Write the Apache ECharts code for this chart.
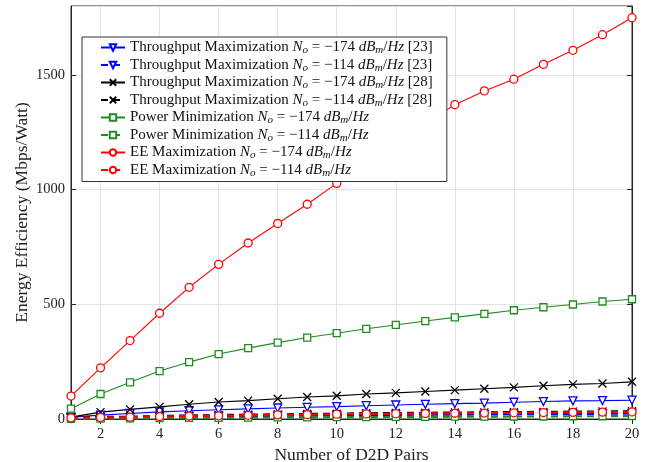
<!DOCTYPE html>
<html>
<head>
<meta charset="utf-8">
<script src="https://cdn.jsdelivr.net/npm/echarts@6/dist/echarts.min.js"></script>
<style>
	html, body { margin: 0; padding: 0; background: #fff; }
	#main { width: 652px; height: 462px; }
</style>
</head>
<body>
<div id="main"></div>
<script>
// number of D2D pairs
var pairs = ['1', '2', '3', '4', '5', '6', '7', '8', '9', '10', '11', '12', '13', '14', '15', '16', '17', '18', '19', '20'];
var yTicks = [0, 500, 1000, 1500];

// throughput maximization [23]
var tp23_174 = [8, 17, 24, 31, 36, 40, 44, 48, 51, 54, 58, 61, 64, 67, 69, 73, 76, 79, 80, 82];
var tp23_114 = [3, 5, 6, 8, 10, 11, 12, 14, 15, 16, 17, 18, 19, 19, 20, 21, 22, 22, 23, 24];
// throughput maximization [28]
var tp28_174 = [8, 30, 42, 53, 64, 74, 80, 88, 96, 101, 109, 114, 120, 126, 132, 138, 145, 151, 155, 162];
var tp28_114 = [6, 9, 10, 13, 15, 17, 19, 20, 22, 23, 25, 26, 27, 28, 29, 30, 31, 32, 33, 34];
// power minimization
var pm_174 = [45, 109, 160, 209, 248, 283, 309, 333, 355, 374, 393, 410, 427, 443, 458, 474, 487, 499, 512, 522];
var pm_114 = [1, 2, 3, 4, 5, 5, 6, 7, 7, 8, 8, 9, 9, 10, 10, 11, 11, 12, 12, 13];
// EE maximization
var ee_174 = [100, 223, 342, 461, 574, 674, 767, 852, 936, 1027, 1112, 1198, 1285, 1370, 1430, 1481, 1546, 1607, 1675, 1749];
var ee_114 = [5, 7, 8, 11, 13, 14, 16, 18, 19, 21, 22, 23, 24, 25, 26, 27, 28, 29, 30, 31];

var FONT = 'Liberation Serif';
var crossPath = 'path://M0,0L10,10M10,0L0,10';

function mkLine(name, data, color, symbol, dashed, size, rotate) {
	return {
		name: name,
		type: 'line',
		data: data,
		symbol: symbol,
		symbolSize: size,
		symbolRotate: rotate || 0,
		showAllSymbol: true,
		lineStyle: { color: color, width: dashed ? 2.2 : 1.1, type: dashed ? [7, 5] : 'solid' },
		itemStyle: {
			color: symbol == crossPath ? color : '#fff',
			borderColor: color,
			borderWidth: 1.3
		}
	};
}

function legendText(name) {
	return name
		.replace('N_o', '{it|N}{sub|o}')
		.replace('dB_m/Hz', '{it|dB}{sub|m}/{it|Hz}');
}

var myChart = echarts.init(document.getElementById('main'));

var seriesList = [
	mkLine('Throughput Maximization N_o = \u2212174 dB_m/Hz [23]', tp23_174, '#0000ff', 'triangle', false, 8, 180),
	mkLine('Throughput Maximization N_o = \u2212114 dB_m/Hz [23]', tp23_114, '#0000ff', 'triangle', true, 8, 180),
	mkLine('Throughput Maximization N_o = \u2212174 dB_m/Hz [28]', tp28_174, '#000000', crossPath, false, 8),
	mkLine('Throughput Maximization N_o = \u2212114 dB_m/Hz [28]', tp28_114, '#000000', crossPath, true, 8),
	mkLine('Power Minimization N_o = \u2212174 dB_m/Hz', pm_174, '#1e8c1e', 'rect', false, 7),
	mkLine('Power Minimization N_o = \u2212114 dB_m/Hz', pm_114, '#1e8c1e', 'rect', true, 7),
	mkLine('EE Maximization N_o = \u2212174 dB_m/Hz', ee_174, '#ff0000', 'circle', false, 8),
	mkLine('EE Maximization N_o = \u2212114 dB_m/Hz', ee_114, '#ff0000', 'circle', true, 8)
];

var evenIdx = function (index) { return index % 2 === 1; };

var option = {
	animation: false,
	backgroundColor: '#fff',
	textStyle: { fontFamily: FONT },
	grid: {
		left: 71, right: 20, top: 6, bottom: 43,
		outerBoundsMode: 'none',
		show: true, borderColor: '#262626', borderWidth: 1
	},
	legend: {
		orient: 'vertical',
		left: 82,
		top: 37,
		padding: [3, 14, 3, 18],
		itemWidth: 24,
		itemHeight: 8,
		itemGap: 1.5,
		backgroundColor: '#fff',
		borderColor: '#333',
		borderWidth: 1,
		formatter: legendText,
		textStyle: {
			fontFamily: FONT,
			fontSize: 15,
			color: '#111',
			rich: {
				it: { fontFamily: FONT, fontSize: 15, fontStyle: 'italic', color: '#111' },
				sub: { fontFamily: FONT, fontSize: 11, fontStyle: 'italic', color: '#111', verticalAlign: 'bottom', padding: [6, 0, 0, 0] }
			}
		}
	},
	xAxis: [{
		type: 'category',
		data: pairs,
		boundaryGap: false,
		name: 'Number of D2D Pairs',
		nameLocation: 'middle',
		nameGap: 25,
		nameTextStyle: { fontFamily: FONT, fontSize: 17.5, color: '#222' },
		axisLine: { lineStyle: { color: '#262626' } },
		axisTick: { inside: true, length: 5, interval: evenIdx, lineStyle: { color: '#262626' } },
		axisLabel: { interval: evenIdx, fontFamily: FONT, fontSize: 14.5, color: '#222', margin: 8 },
		splitLine: { show: true, interval: evenIdx, lineStyle: { color: '#e3e3e3' } }
	}, {
		type: 'category',
		data: pairs,
		boundaryGap: false,
		position: 'top',
		axisLine: { show: true, lineStyle: { color: '#262626' } },
		axisTick: { show: true, inside: true, length: 5, interval: evenIdx, lineStyle: { color: '#262626' } },
		axisLabel: { show: false },
		splitLine: { show: false }
	}],
	yAxis: [{
		type: 'value',
		min: 0,
		max: 1800,
		interval: 500,
		name: 'Energy Efficiency (Mbps/Watt)',
		nameLocation: 'middle',
		nameGap: 40,
		nameMoveOverlap: false,
		nameTextStyle: { fontFamily: FONT, fontSize: 17.5, color: '#222' },
		axisLine: { show: true, lineStyle: { color: '#262626' } },
		axisTick: { show: true, inside: true, length: 5, lineStyle: { color: '#262626' } },
		axisLabel: {
			fontFamily: FONT, fontSize: 14.5, color: '#222', margin: 6,
			showMaxLabel: false,
			formatter: function (v) { return yTicks.indexOf(v) >= 0 ? String(v) : ''; }
		},
		splitLine: { show: true, lineStyle: { color: '#e3e3e3' } }
	}, {
		type: 'value',
		min: 0,
		max: 1800,
		interval: 500,
		position: 'right',
		axisLine: { show: true, lineStyle: { color: '#262626' } },
		axisTick: { show: true, inside: true, length: 5, lineStyle: { color: '#262626' } },
		axisLabel: { show: false },
		splitLine: { show: false }
	}],
	series: seriesList
};

myChart.setOption(option);
</script>
</body>
</html>
